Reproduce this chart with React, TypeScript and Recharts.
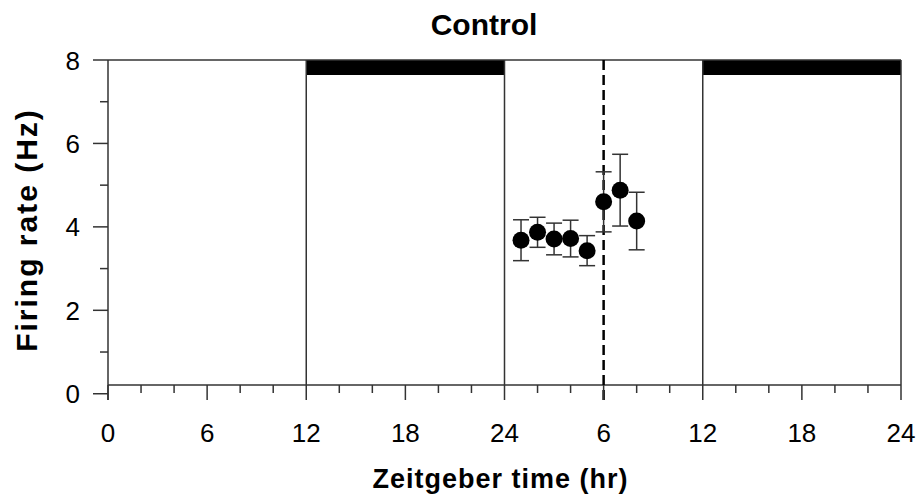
import React from 'react';
import {
  ComposedChart,
  Scatter,
  XAxis,
  YAxis,
  ReferenceLine,
  ReferenceArea,
  ErrorBar,
  Label,
} from 'recharts';

// ---- data ----
const HOURS = [25, 26, 27, 28, 29, 30, 31, 32];
const RATES = [3.68, 3.87, 3.71, 3.72, 3.43, 4.6, 4.88, 4.14];
const SEM = [0.49, 0.36, 0.38, 0.44, 0.36, 0.72, 0.86, 0.69];

const X_TICKS = [0, 2, 4, 6, 8, 10, 12, 14, 16, 18, 20, 22, 24, 26, 28, 30, 32, 34, 36, 38, 40, 42, 44, 46, 48];
const X_MAJOR = [0, 6, 12, 18, 24, 30, 36, 42, 48];
const X_LABELS = ['0', '6', '12', '18', '24', '6', '12', '18', '24'];
const Y_TICKS = [0, 1, 2, 3, 4, 5, 6, 7, 8];
const Y_MAJOR = [0, 2, 4, 6, 8];
const DARK_START = [12, 36];
const DARK_END = [24, 48];
const PHASE_LINES = [12, 24, 36, 48];
const SHIFT_HOUR = 30;
const Y_MAX = 8;
const DARK_BAR_BOTTOM = 7.64;
const X_AXIS_BASE = 0.21;

const TITLE = 'Control';
const X_TITLE = 'Zeitgeber time (hr)';
const Y_TITLE = 'Firing rate (Hz)';

const data = HOURS.map((h, i) => ({ hour: h, rate: RATES[i], err: SEM[i] }));

const FONT = "Arial, 'Liberation Sans', sans-serif";
const LINE = '#333';

const XTick = (props: any) => {
  const { x, y, payload } = props;
  const idx = X_MAJOR.indexOf(payload.value);
  const major = idx >= 0;
  return (
    <g>
      <line x1={x} x2={x} y1={y - 15} y2={major ? y : y - 7} stroke={LINE} strokeWidth={1.5} />
      {major && (
        <text x={x} y={y + 42} textAnchor="middle" fontSize={26} fontFamily={FONT} fill="#000">
          {X_LABELS[idx]}
        </text>
      )}
    </g>
  );
};

const YTick = (props: any) => {
  const { x, y, payload } = props;
  const major = Y_MAJOR.includes(payload.value);
  return (
    <g>
      <line x1={major ? x - 15 : x - 8} x2={x} y1={y} y2={y} stroke={LINE} strokeWidth={1.5} />
      {major && (
        <text x={x - 28} y={y + 9.5} textAnchor="end" fontSize={26} fontFamily={FONT} fill="#000">
          {payload.value}
        </text>
      )}
    </g>
  );
};

const Dot = (props: any) => <circle cx={props.cx} cy={props.cy} r={8.5} fill="#000" />;

export default function App() {
  return (
    <div style={{ position: 'absolute', left: 0, top: 0, width: 920, height: 500, background: '#fff' }}>
      <ComposedChart
        width={920}
        height={500}
        data={data}
        margin={{ top: 60, right: 19, bottom: 40, left: 0 }}
      >
        <XAxis
          type="number"
          dataKey="hour"
          domain={[0, 48]}
          ticks={X_TICKS}
          interval={0}
          allowDataOverflow
          axisLine={false}
          tickLine={false}
          tickSize={0}
          tickMargin={0}
          height={60}
          tick={<XTick />}
        >
          <Label
            content={(p: any) => {
              const vb = p.viewBox;
              return (
                <text
                  x={vb.x + vb.width / 2 - 4}
                  y={vb.y + 88}
                  textAnchor="middle"
                  fontSize={27}
                  fontWeight="bold"
                  letterSpacing={1}
                  fontFamily={FONT}
                  fill="#000"
                >
                  {X_TITLE}
                </text>
              );
            }}
          />
        </XAxis>
        <YAxis
          type="number"
          domain={[-0.15, Y_MAX]}
          ticks={Y_TICKS}
          interval={0}
          allowDataOverflow
          width={108}
          axisLine={{ stroke: LINE, strokeWidth: 1.5 }}
          tickLine={false}
          tickSize={0}
          tickMargin={0}
          tick={<YTick />}
        >
          <Label
            content={(p: any) => {
              const vb = p.viewBox;
              const cx = 37;
              const cy = vb.y + vb.height / 2;
              return (
                <text
                  x={cx}
                  y={cy}
                  transform={`rotate(-90, ${cx}, ${cy})`}
                  textAnchor="middle"
                  fontSize={30}
                  fontWeight="bold"
                  letterSpacing={2}
                  fontFamily={FONT}
                  fill="#000"
                >
                  {Y_TITLE}
                </text>
              );
            }}
          />
        </YAxis>

        {DARK_START.map((s, i) => (
          <ReferenceArea
            key={'d' + i}
            x1={s}
            x2={DARK_END[i]}
            y1={DARK_BAR_BOTTOM}
            y2={Y_MAX}
            fill="#000"
            fillOpacity={1}
            stroke="none"
            ifOverflow="visible"
          />
        ))}
        <ReferenceLine y={Y_MAX} stroke={LINE} strokeWidth={1.5} ifOverflow="visible" />
        <ReferenceLine y={X_AXIS_BASE} stroke={LINE} strokeWidth={1.5} ifOverflow="visible" />
        {PHASE_LINES.map((h) => (
          <ReferenceLine
            key={'p' + h}
            segment={[{ x: h, y: X_AXIS_BASE }, { x: h, y: Y_MAX }]}
            stroke={LINE}
            strokeWidth={1.5}
            ifOverflow="visible"
          />
        ))}
        <ReferenceLine x={SHIFT_HOUR} stroke="#000" strokeWidth={2.5} strokeDasharray="10 5" ifOverflow="visible" />

        <Scatter dataKey="rate" fill="#000" shape={<Dot />} isAnimationActive={false}>
          <ErrorBar dataKey="err" direction="y" width={8} stroke={LINE} strokeWidth={1.5} isAnimationActive={false} />
        </Scatter>
      </ComposedChart>
      <svg
        width={920}
        height={50}
        style={{ position: 'absolute', left: 0, top: 0, pointerEvents: 'none' }}
      >
        <text x={484} y={35} textAnchor="middle" fontSize={30} fontWeight="bold" fontFamily={FONT} fill="#000">
          {TITLE}
        </text>
      </svg>
    </div>
  );
}
